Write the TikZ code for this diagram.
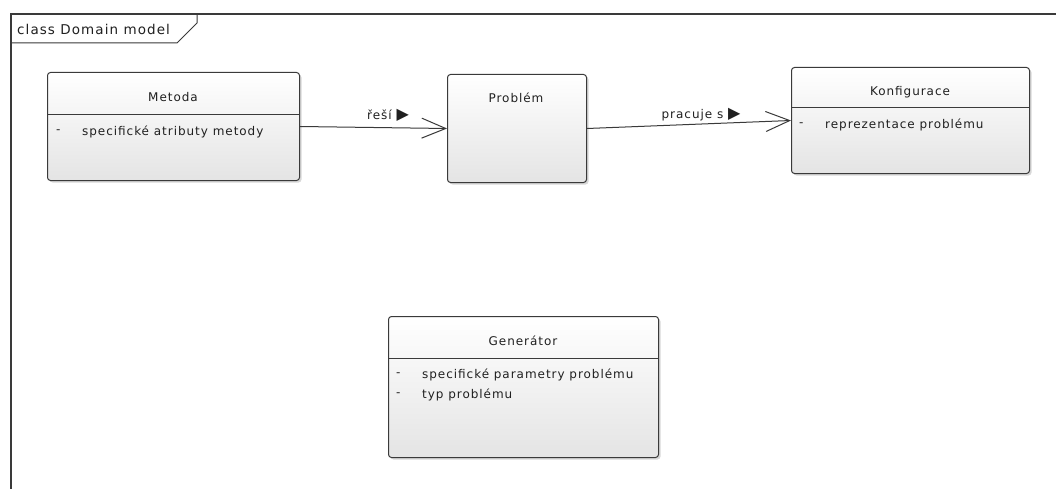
\documentclass[tikz,border=0pt]{standalone}
\usepackage{fontspec}
\setmainfont{DejaVu Sans}
\newfontfamily\umlfont[LetterSpace=8]{DejaVu Sans}
\usetikzlibrary{arrows.meta,shadows}

\definecolor{umlline}{HTML}{3A3A3A}
\definecolor{umlfill}{HTML}{E4E4E4}
\definecolor{umltext}{HTML}{202020}
\newcommand{\navarrow}{{\fontsize{16}{14}\selectfont ▶}}
\tikzstyle{classbox} = [draw=umlline, line width=1pt, rounded corners=3pt, top color=white, bottom color=umlfill, drop shadow={shadow xshift=2pt, shadow yshift=-2pt, fill=black!30}, anchor=north west, inner sep=0pt]
\tikzstyle{classname} = [text=umltext, font=\umlfont\fontsize{12}{14}\selectfont, inner sep=0pt]
\tikzstyle{attr} = [text=umltext, anchor=west, font=\umlfont\fontsize{12}{14}\selectfont, inner sep=0pt]
\tikzstyle{divider} = [draw=umlline, line width=1pt]
\tikzstyle{assoc} = [draw=umlline, line width=1pt, -{Straight Barb[length=24pt,width=20pt,line width=1pt]}]

\begin{document}
\begin{tikzpicture}[x=1pt, y=-1pt]
	\useasboundingbox[fill=white] (0,0) rectangle (1056,489);
	% frame
	\draw[umlline, line width=1.5pt] (11,489) -- (11,14) -- (1056,14);
	\draw[umlline, line width=1pt] (11,43) -- (177,43) -- (197,23) -- (197,14);
	\node[classname, anchor=west, font=\umlfont\fontsize{13.5}{14}\selectfont] (frame) at (17,29) {class Domain model};
	
	% Metoda
	\node[classbox, minimum width=252pt, minimum height=108pt] (metoda) at (47,72) {};
	\node[classname] (metodaname) at (173,97) {Metoda};
	\draw[divider] (metoda.west |- 0,115) -- (metoda.east |- 0,115);
	\node[attr] (metodadash) at (56,132) {-};
	\node[attr] (metodaattr) at (82,132) {specifické atributy metody};
	
	% Problem
	\node[classbox, minimum width=139pt, minimum height=108pt] (problem) at (447,74) {};
	\node[classname] (problemname) at (516,98) {Problém};
	
	% Konfigurace
	\node[classbox, minimum width=238pt, minimum height=106pt] (konfig) at (791,67) {};
	\node[classname] (konfigname) at (910,92) {Konfigurace};
	\draw[divider] (konfig.west |- 0,108) -- (konfig.east |- 0,108);
	\node[attr] (konfigdash) at (799,125) {-};
	\node[attr] (konfigattr) at (825,125) {reprezentace problému};
	
	% Generator
	\node[classbox, minimum width=270pt, minimum height=141pt] (generator) at (388,316) {};
	\node[classname] (generatorname) at (523,341) {Generátor};
	\draw[divider] (generator.west |- 0,358) -- (generator.east |- 0,358);
	\node[attr] (generatordash1) at (396,375) {-};
	\node[attr] (generatorattr1) at (422,375) {specifické parametry problému};
	\node[attr] (generatordash2) at (396,395) {-};
	\node[attr] (generatorattr2) at (422,395) {typ problému};
	
	% associations
	\draw[assoc] (metoda.east) -- (problem.west);
	\node[classname] (resilabel) at (388,115) {řeší \navarrow};
	\draw[assoc] (problem.east) -- (konfig.west);
	\node[classname] (pracujelabel) at (701,115) {pracuje s \navarrow};
\end{tikzpicture}
\end{document}
